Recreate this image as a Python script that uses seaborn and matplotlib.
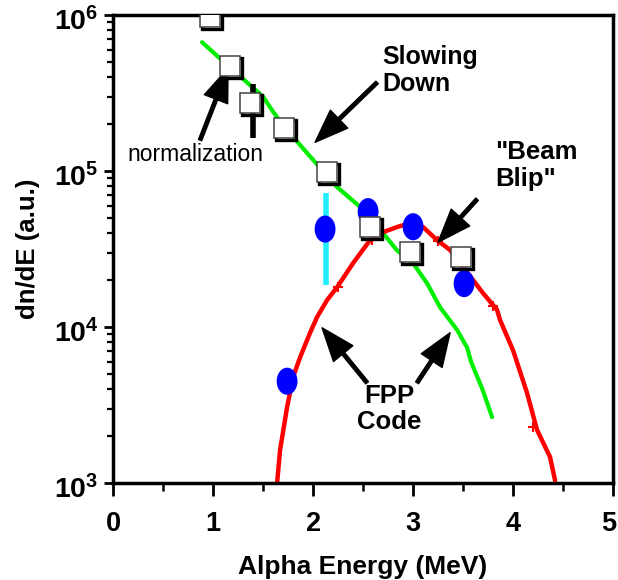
import numpy as np
import pandas as pd
import matplotlib
matplotlib.use('Agg')
import matplotlib.pyplot as plt
import matplotlib.transforms as mtransforms
from matplotlib.path import Path
from matplotlib.ticker import LogLocator, NullFormatter
import seaborn as sns

# measured spectrum (open squares)
sq_e = [0.97, 1.17, 1.37, 1.71, 2.14, 2.57, 2.97, 3.48]
sq_n = [9.7e5, 4.7e5, 2.75e5, 1.9e5, 9.8e4, 4.4e4, 3.05e4, 2.8e4]

# blue points
bl_e = [1.74, 2.12, 2.55, 3.00, 3.51]
bl_n = [4.5e3, 4.25e4, 5.5e4, 4.4e4, 1.9e4]

# error bars
err_black = (1.40, 1.63e5, 3.6e5)
err_cyan = (2.13, 1.86e4, 7.2e4)

# slowing down curve (green)
gr_e = [0.89, 1.17, 1.30, 1.50, 1.60, 1.74, 2.00, 2.24, 2.47, 2.70, 2.84, 3.00,
        3.14, 3.27, 3.44, 3.54, 3.58, 3.70, 3.79]
gr_n = [6.7e5, 4.6e5, 3.9e5, 3.0e5, 2.4e5, 1.83e5, 1.18e5, 7.9e4, 5.9e4, 4.0e4,
        3.1e4, 2.57e4, 1.91e4, 1.34e4, 9.6e3, 7.4e3, 6.0e3, 3.9e3, 2.65e3]

# FPP code beam blip (red)
rd_e = [1.64, 1.67, 1.74, 1.80, 1.87, 1.97, 2.04, 2.14, 2.24, 2.40, 2.57, 2.70,
        2.84, 2.97, 3.10, 3.24, 3.37, 3.50, 3.70, 3.84, 3.87, 4.00, 4.14, 4.24,
        4.37, 4.42]
rd_n = [1.0e3, 1.63e3, 3.07e3, 4.78e3, 6.4e3, 9.2e3, 1.16e4, 1.49e4, 1.80e4,
        2.57e4, 3.61e4, 4.06e4, 4.38e4, 4.64e4, 4.38e4, 3.61e4, 3.12e4, 2.43e4,
        1.65e4, 1.29e4, 1.11e4, 7.1e3, 3.78e3, 2.19e3, 1.47e3, 1.04e3]
rd_tick_e = [2.25, 2.59, 2.97, 3.25, 3.80, 4.20]
rd_tick_n = [1.8e4, 3.6e4, 4.64e4, 3.55e4, 1.36e4, 2.3e3]

x_ticks = [0, 1, 2, 3, 4, 5]
x_labels = ['0', '1', '2', '3', '4', '5']
y_ticks = [1e3, 1e4, 1e5, 1e6]
y_labels = [r'$10^{3}$', r'$10^{4}$', r'$10^{5}$', r'$10^{6}$']

sns.set_style("ticks")
plt.rcParams['font.family'] = ['Liberation Sans', 'DejaVu Sans']
plt.rcParams['mathtext.fontset'] = 'custom'
plt.rcParams['mathtext.rm'] = 'Liberation Sans:bold'
plt.rcParams['mathtext.it'] = 'Liberation Sans:bold'
plt.rcParams['mathtext.bf'] = 'Liberation Sans:bold'
for k in ['text.color', 'axes.labelcolor', 'xtick.color', 'ytick.color', 'axes.edgecolor']:
    plt.rcParams[k] = 'black'

fig = plt.figure(figsize=(6.18, 5.80), dpi=100)
ax = fig.add_axes([0.183, 0.167, 0.809, 0.807])

green = pd.DataFrame({'e': gr_e, 'n': gr_n})
red = pd.DataFrame({'e': rd_e, 'n': rd_n})
sns.lineplot(data=green, x='e', y='n', color='#00ee00', lw=3, sort=False, ax=ax)
sns.lineplot(data=red, x='e', y='n', color='#ff0000', lw=3.2, sort=False, ax=ax)
ax.plot(rd_tick_e, rd_tick_n, ls='none', marker='+', ms=7, mew=1.5, color='#ff0000')

# error bars
ax.vlines(err_black[0], err_black[1], err_black[2], color='black', lw=4)
ax.vlines(err_cyan[0], err_cyan[1], err_cyan[2], color='#22eeff', lw=4)

# ellipse marker
circ = Path.unit_circle()
ell = Path(circ.vertices * np.array([0.77, 1.0]), circ.codes)
sns.scatterplot(x=bl_e, y=bl_n, marker=ell, s=380, color='#0000ff',
                edgecolor='none', ax=ax, zorder=4)

# squares with shadow
shadow = mtransforms.offset_copy(ax.transData, fig=fig, x=2.0, y=-2.0, units='dots')
ax.plot(sq_e, sq_n, ls='none', marker='s', ms=14, mfc='none', mec='black',
        mew=2.4, transform=shadow, zorder=5)
ax.plot(sq_e, sq_n, ls='none', marker='s', ms=14, mfc='white', mec='#444444',
        mew=1.1, zorder=6)

ax.set_yscale('log')
ax.set_xlim(0, 5)
ax.set_ylim(1e3, 1e6)
ax.set_xticks(x_ticks)
ax.set_xticks([0.5, 1.5, 2.5, 3.5, 4.5], minor=True)
ax.set_xticklabels(x_labels)
ax.set_yticks(y_ticks)
ax.set_yticklabels(y_labels)
ax.yaxis.set_minor_locator(LogLocator(base=10, subs=np.arange(2, 10), numticks=20))
ax.yaxis.set_minor_formatter(NullFormatter())
ax.tick_params(axis='x', which='major', direction='out', length=9, width=2,
               labelsize=19.5, pad=11)
ax.tick_params(axis='x', which='minor', direction='out', length=6, width=1.8)
ax.tick_params(axis='y', which='major', direction='out', length=6.5, width=2,
               labelsize=20.5, pad=4)
ax.tick_params(axis='y', which='minor', direction='out', length=4, width=1.6)
for lab in ax.get_xticklabels():
    lab.set_fontweight('bold')
last = ax.get_xticklabels()[-1]
last.set_transform(last.get_transform() + mtransforms.ScaledTranslation(-4 / 100, 0, fig.dpi_scale_trans))
for lab in ax.get_yticklabels():
    lab.set_transform(lab.get_transform() + mtransforms.ScaledTranslation(0, -4 / 100, fig.dpi_scale_trans))
for sp in ax.spines.values():
    sp.set_linewidth(2.5)
    sp.set_visible(True)

ax.set_xlabel('Alpha Energy (MeV)', fontsize=19, fontweight='bold', labelpad=13)
ax.set_ylabel('dn/dE (a.u.)', fontsize=18.5, fontweight='bold', labelpad=10)

arrow = dict(facecolor='black', edgecolor='black', width=2.5, headwidth=18,
             headlength=24, shrink=0)

ax.annotate('', xy=(1.15, 4.57e5), xytext=(0.87, 1.58e5), arrowprops=arrow)
ax.text(0.14, 1.27e5, 'normalization', fontsize=16.5, ha='left', va='center')

ax.annotate('', xy=(2.02, 1.53e5), xytext=(2.64, 3.7e5), arrowprops=arrow)
ax.text(2.69, 4.44e5, 'Slowing\nDown', fontsize=18, fontweight='bold',
        ha='left', va='center', linespacing=1.15)

ax.annotate('', xy=(3.25, 3.5e4), xytext=(3.64, 6.6e4), arrowprops=arrow)
ax.text(3.82, 1.09e5, '"Beam\nBlip"', fontsize=18.5, fontweight='bold',
        ha='left', va='center', linespacing=1.15)

ax.annotate('', xy=(2.09, 9.9e3), xytext=(2.54, 4.4e3), arrowprops=arrow)
ax.annotate('', xy=(3.37, 9.2e3), xytext=(3.04, 4.4e3), arrowprops=arrow)
ax.text(2.76, 2.98e3, 'FPP\nCode', fontsize=18.5, fontweight='bold',
        ha='center', va='center', linespacing=1.1)

fig.savefig('out.png', dpi=100)
